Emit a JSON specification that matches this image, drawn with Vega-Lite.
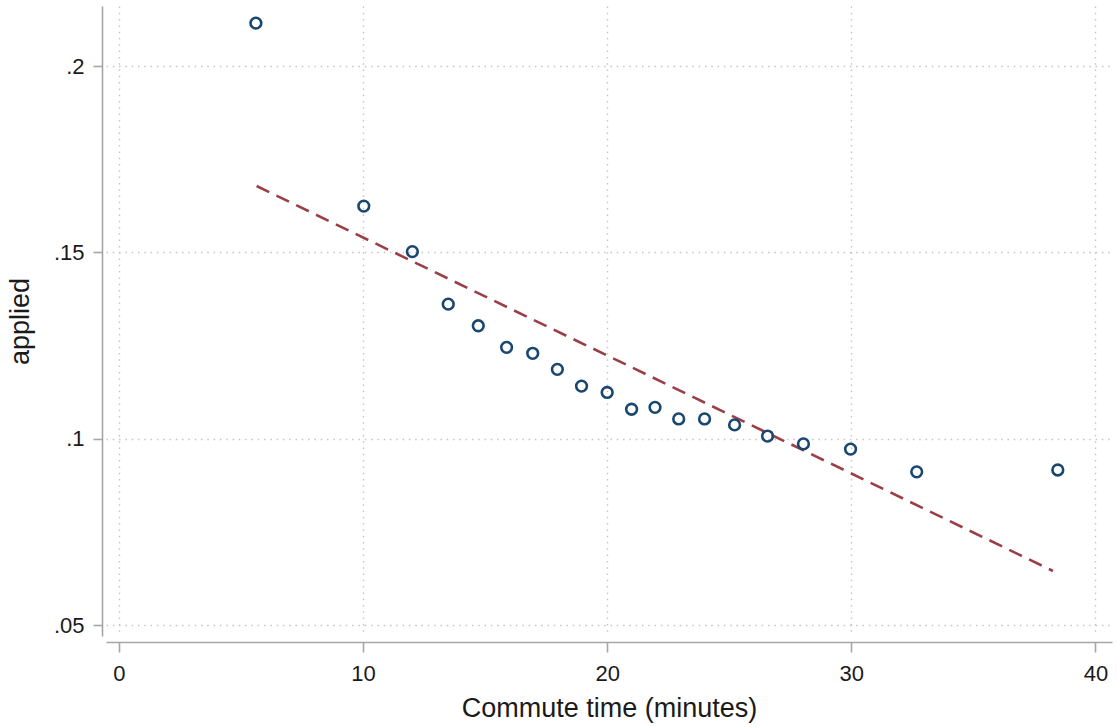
{
  "$schema": "https://vega.github.io/schema/vega-lite/v6.json",
  "width": 1006,
  "height": 630,
  "autosize": {"type": "none"},
  "padding": {"left": 106, "top": 6, "right": 5, "bottom": 91},
  "background": "white",
  "config": {
    "view": {"stroke": null},
    "font": "Liberation Sans",
    "axis": {
      "labelFont": "Liberation Sans",
      "titleFont": "Liberation Sans",
      "labelColor": "#1a1a1a",
      "titleColor": "#1a1a1a",
      "labelFontSize": 22,
      "titleFontSize": 27,
      "titleFontWeight": "normal",
      "domainColor": "#a6a6a6",
      "domainWidth": 1.6,
      "tickColor": "#a6a6a6",
      "tickWidth": 1.6,
      "gridColor": "#c4c4c4",
      "gridWidth": 1.4,
      "gridDash": [1.5, 4.8]
    }
  },
  "datasets": {
    "bins": [
      {"commute": 5.61, "applied": 0.2115},
      {"commute": 10.03, "applied": 0.1624},
      {"commute": 12.02, "applied": 0.1502},
      {"commute": 13.49, "applied": 0.1361},
      {"commute": 14.72, "applied": 0.1303},
      {"commute": 15.88, "applied": 0.1245},
      {"commute": 16.95, "applied": 0.1229},
      {"commute": 17.96, "applied": 0.1186},
      {"commute": 18.95, "applied": 0.1141},
      {"commute": 20.0, "applied": 0.1124},
      {"commute": 21.0, "applied": 0.1079},
      {"commute": 21.96, "applied": 0.1084},
      {"commute": 22.93, "applied": 0.1053},
      {"commute": 23.99, "applied": 0.1053},
      {"commute": 25.22, "applied": 0.1037},
      {"commute": 26.57, "applied": 0.1007},
      {"commute": 28.04, "applied": 0.0986},
      {"commute": 29.97, "applied": 0.0972},
      {"commute": 32.68, "applied": 0.0911},
      {"commute": 38.46, "applied": 0.0916}
    ],
    "fit": [
      {"commute": 5.64, "applied": 0.1678},
      {"commute": 38.26, "applied": 0.0645}
    ]
  },
  "layer": [
    {
      "data": {"name": "fit"},
      "mark": {"type": "line", "color": "#9a3f47", "strokeWidth": 2.6, "strokeDash": [14, 8], "clip": false},
      "encoding": {
        "x": {"field": "commute", "type": "quantitative"},
        "y": {"field": "applied", "type": "quantitative"}
      }
    },
    {
      "data": {"name": "bins"},
      "mark": {"type": "point", "shape": "circle", "filled": false, "color": "#1a476f", "strokeWidth": 2.6, "size": 115, "opacity": 1},
      "encoding": {
        "x": {
          "field": "commute",
          "type": "quantitative",
          "scale": {"domain": [-0.53, 40.68], "nice": false, "zero": false},
          "axis": {
            "values": [0, 10, 20, 30, 40],
            "title": "Commute time (minutes)",
            "offset": 6,
            "tickSize": 10,
            "labelPadding": 28,
            "labelBaseline": "alphabetic",
            "titleBaseline": "alphabetic",
            "titleY": 74,
            "grid": true
          }
        },
        "y": {
          "field": "applied",
          "type": "quantitative",
          "scale": {"domain": [0.04705, 0.2161], "nice": false, "zero": false},
          "axis": {
            "values": [0.05, 0.1, 0.15, 0.2],
            "labelExpr": "replace(format(datum.value, '~g'), regexp('^0'), '')",
            "title": "applied",
            "offset": 4,
            "tickSize": 9,
            "labelPadding": 9,
            "titleX": -82,
            "titleBaseline": "middle",
            "grid": true
          }
        }
      }
    }
  ]
}
